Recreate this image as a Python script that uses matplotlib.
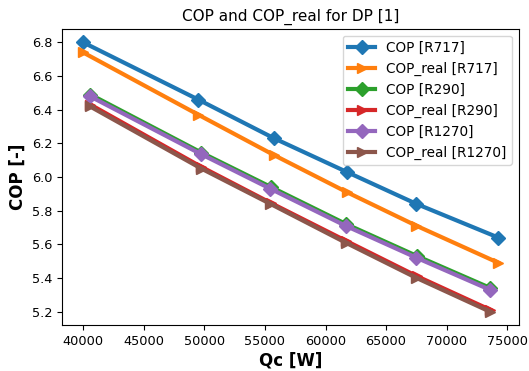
import matplotlib
matplotlib.use("Agg")
import matplotlib.pyplot as plt

# Qc [W] values for each refrigerant
qc_r717 = [40000, 49500, 55750, 61750, 67500, 74250]
qc_r290 = [40600, 49750, 55500, 61700, 67550, 73600]
qc_r1270 = [40550, 49750, 55450, 61650, 67500, 73550]

cop_r717 = [6.80, 6.46, 6.23, 6.03, 5.84, 5.64]
cop_real_r717 = [6.74, 6.37, 6.13, 5.91, 5.71, 5.49]
cop_r290 = [6.49, 6.145, 5.94, 5.72, 5.53, 5.34]
cop_real_r290 = [6.43, 6.06, 5.845, 5.62, 5.41, 5.21]
cop_r1270 = [6.48, 6.135, 5.93, 5.71, 5.52, 5.33]
cop_real_r1270 = [6.42, 6.05, 5.84, 5.61, 5.40, 5.20]

fig, ax = plt.subplots(figsize=(5.29, 3.71), dpi=100)
fig.subplots_adjust(left=0.118, right=0.981, top=0.922, bottom=0.124)

lw = 3
ms = 7
ax.plot(qc_r717, cop_r717, marker="D", lw=lw, ms=ms, label="COP [R717]")
ax.plot(qc_r717, cop_real_r717, marker=">", lw=lw, ms=ms, label="COP_real [R717]")
ax.plot(qc_r290, cop_r290, marker="D", lw=lw, ms=ms, label="COP [R290]")
ax.plot(qc_r290, cop_real_r290, marker=">", lw=lw, ms=ms, label="COP_real [R290]")
ax.plot(qc_r1270, cop_r1270, marker="D", lw=lw, ms=ms, label="COP [R1270]")
ax.plot(qc_r1270, cop_real_r1270, marker=">", lw=lw, ms=ms, label="COP_real [R1270]")

ax.set_title("COP and COP_real for DP [1]", fontsize=11)
ax.set_xlabel("Qc [W]", fontsize=12, fontweight="bold", labelpad=3)
ax.set_ylabel("COP [-]", fontsize=12, fontweight="bold")
ax.tick_params(labelsize=9.3)
ax.legend(loc="upper right", fontsize=9.8)

plt.savefig("out.png", dpi=100)
